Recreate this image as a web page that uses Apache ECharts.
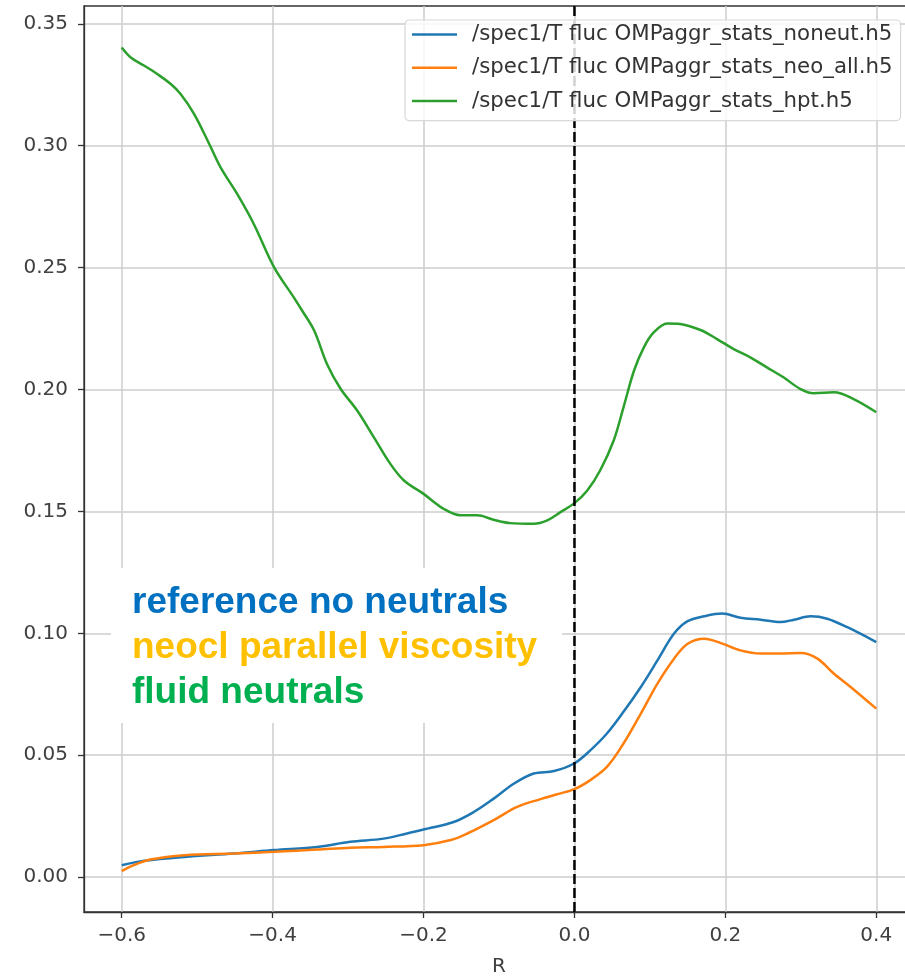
<!DOCTYPE html>
<html>
<head>
<meta charset="utf-8">
<title>/spec1/T fluc</title>
<script src="https://cdn.jsdelivr.net/npm/echarts@6/dist/echarts.min.js"></script>
<style>
  html, body { margin: 0; padding: 0; background: #ffffff; overflow: hidden; }
  #chart { width: 915px; height: 977px; }
</style>
</head>
<body>
<div id="chart"></div>
<script>
// Radial profiles of the temperature fluctuation level (/spec1/T fluc)
const noneutR = [-0.600, -0.570, -0.517, -0.451, -0.398, -0.341, -0.297, -0.253, -0.222, -0.195,
  -0.160, -0.133, -0.107, -0.080, -0.054, -0.027, 0.000, 0.021, 0.043, 0.065, 0.088, 0.110, 0.132,
  0.150, 0.172, 0.196, 0.220, 0.247, 0.273, 0.291, 0.313, 0.335, 0.361, 0.400];
const noneutT = [0.0049, 0.0067, 0.0083, 0.0097, 0.0111, 0.0124, 0.0145, 0.0158, 0.0179, 0.0199,
  0.0226, 0.0268, 0.0322, 0.0384, 0.0425, 0.0435, 0.0467, 0.0520, 0.0589, 0.0678, 0.0780, 0.0889, 0.0999,
  0.1050, 0.1070, 0.1081, 0.1064, 0.1056, 0.1046, 0.1056, 0.1070, 0.1060, 0.1026, 0.0964];

const neoR = [-0.600, -0.584, -0.562, -0.517, -0.451, -0.398, -0.341, -0.297, -0.253, -0.200,
  -0.164, -0.142, -0.107, -0.076, -0.045, -0.023, 0.000, 0.021, 0.043, 0.065, 0.088, 0.110, 0.132,
  0.150, 0.172, 0.194, 0.220, 0.247, 0.273, 0.300, 0.322, 0.344, 0.366, 0.400];
const neoT = [0.0025, 0.0049, 0.0072, 0.0090, 0.0097, 0.0104, 0.0113, 0.0121, 0.0124, 0.0131,
  0.0152, 0.0179, 0.0234, 0.0288, 0.0320, 0.0340, 0.0361, 0.0398, 0.0452, 0.0548, 0.0671, 0.0794, 0.0896,
  0.0957, 0.0978, 0.0960, 0.0930, 0.0917, 0.0917, 0.0919, 0.0896, 0.0834, 0.0780, 0.0691];

const hptR = [-0.600, -0.588, -0.570, -0.553, -0.535, -0.522, -0.504, -0.484, -0.469, -0.447,
  -0.425, -0.398, -0.372, -0.361, -0.345, -0.328, -0.310, -0.288, -0.266, -0.244, -0.226, -0.200,
  -0.173, -0.151, -0.129, -0.107, -0.085, -0.054, -0.036, -0.0185, 0.000, 0.017, 0.034, 0.052,
  0.065, 0.079, 0.092, 0.105, 0.123, 0.140, 0.167, 0.189, 0.211, 0.233, 0.255, 0.277, 0.299,
  0.317, 0.344, 0.370, 0.400];
const hptT = [0.3403, 0.3362, 0.3328, 0.3294, 0.3253, 0.3212, 0.3130, 0.3007, 0.2911, 0.2802,
  0.2679, 0.2501, 0.2378, 0.2324, 0.2242, 0.2105, 0.2003, 0.1914, 0.1805, 0.1695, 0.1627, 0.1572,
  0.1510, 0.1484, 0.1484, 0.1466, 0.1452, 0.1449, 0.1463, 0.1497, 0.1534, 0.1586, 0.1668, 0.1791,
  0.1927, 0.2078, 0.2173, 0.2234, 0.2271, 0.2269, 0.2244, 0.2207, 0.2166, 0.2132, 0.2091, 0.2050, 0.2003,
  0.1985, 0.1989, 0.1961, 0.1907];

const seriesNames = [
  '/spec1/T fluc OMPaggr_stats_noneut.h5',
  '/spec1/T fluc OMPaggr_stats_neo_all.h5',
  '/spec1/T fluc OMPaggr_stats_hpt.h5'
];
const seriesColors = ['#1f77b4', '#ff7f0e', '#2ca02c'];

const xTicks = [-0.6, -0.4, -0.2, 0.0, 0.2, 0.4];
const yTicks = [0.00, 0.05, 0.10, 0.15, 0.20, 0.25, 0.30, 0.35];
const xRange = [-0.65, 0.45];
const yRange = [-0.0143, 0.3573];
const separatrixR = 0.0;

const noteLines = ['reference no neutrals', 'neocl parallel viscosity', 'fluid neutrals'];
const noteColors = ['#0070c0', '#ffc000', '#00b050'];

const zip = (xs, ys) => xs.map((x, i) => [x, ys[i]]);
const profiles = [zip(noneutR, noneutT), zip(neoR, neoT), zip(hptR, hptT)];

const tickFont = { fontFamily: 'DejaVu Sans', fontSize: 20, color: '#404040' };
const minusSign = v => String(v).replace('-', '\u2212');

const chart = echarts.init(document.getElementById('chart'), null, { renderer: 'canvas' });

const series = profiles.map((data, i) => ({
  name: seriesNames[i],
  type: 'line',
  data: data,
  smooth: 0.35,
  showSymbol: false,
  symbol: 'none',
  lineStyle: { color: seriesColors[i], width: 2.5 },
  itemStyle: { color: seriesColors[i] },
  z: 2
}));

// vertical dashed separatrix marker spanning the full plot height
series.push({
  name: 'separatrix',
  type: 'line',
  data: [[separatrixR, yRange[0]], [separatrixR, yRange[1]]],
  showSymbol: false,
  symbol: 'none',
  silent: true,
  lineStyle: { color: '#000000', type: [10, 4], width: 2.5 },
  z: 3
});

const noteLeft = 132;
const noteTop = 603;
const noteStep = 45;

chart.setOption({
  animation: false,
  backgroundColor: '#ffffff',
  grid: {
    left: 84, top: 6, width: 830, height: 906,
    outerBoundsMode: 'none',
    containLabel: false,
    show: true, borderColor: '#333333', borderWidth: 1.3, backgroundColor: 'transparent'
  },
  legend: {
    left: 405, top: 20,
    z: 30,
    orient: 'vertical',
    data: seriesNames,
    icon: 'rect',
    itemWidth: 45, itemHeight: 2.5,
    itemGap: 12.3,
    padding: [4, 8, 9, 7],
    backgroundColor: 'rgba(255,255,255,0.82)',
    borderColor: '#d8d8d8', borderWidth: 1.2, borderRadius: 4,
    textStyle: { fontFamily: 'DejaVu Sans', fontSize: 21.3, color: '#333333', lineHeight: 20, padding: [0, 0, 0, 10] },
    selectedMode: false
  },
  xAxis: {
    type: 'value',
    min: xRange[0], max: xRange[1],
    name: 'R',
    nameLocation: 'middle',
    nameGap: 45,
    nameTextStyle: tickFont,
    axisLine: { show: true, onZero: false, lineStyle: { color: '#333333', width: 1.3 } },
    axisTick: { show: true, length: 6, customValues: xTicks, lineStyle: { color: '#333333', width: 1.3 } },
    axisLabel: Object.assign({ margin: 14, customValues: xTicks, formatter: v => minusSign(v.toFixed(1)) }, tickFont),
    splitLine: { show: true, lineStyle: { color: '#cccccc', width: 1.5 } }
  },
  yAxis: {
    type: 'value',
    min: yRange[0], max: yRange[1],
    axisLine: { show: true, onZero: false, lineStyle: { color: '#333333', width: 1.3 } },
    axisTick: { show: true, length: 6, customValues: yTicks, lineStyle: { color: '#333333', width: 1.3 } },
    axisLabel: Object.assign({ margin: 16, customValues: yTicks, formatter: v => v.toFixed(2) }, tickFont),
    splitLine: { show: true, lineStyle: { color: '#cccccc', width: 1.5 } }
  },
  graphic: [
    {
      type: 'rect',
      shape: { x: 111, y: 568, width: 451, height: 155 },
      style: { fill: '#ffffff' },
      z: 50
    }
  ].concat(noteLines.map((t, i) => ({
    type: 'text',
    x: noteLeft,
    y: noteTop + i * noteStep,
    z: 51,
    style: {
      text: t,
      fill: noteColors[i],
      font: 'bold 37px "Liberation Sans", Arial, sans-serif',
      verticalAlign: 'middle',
      align: 'left'
    }
  }))),
  series: series
});
</script>
</body>
</html>
